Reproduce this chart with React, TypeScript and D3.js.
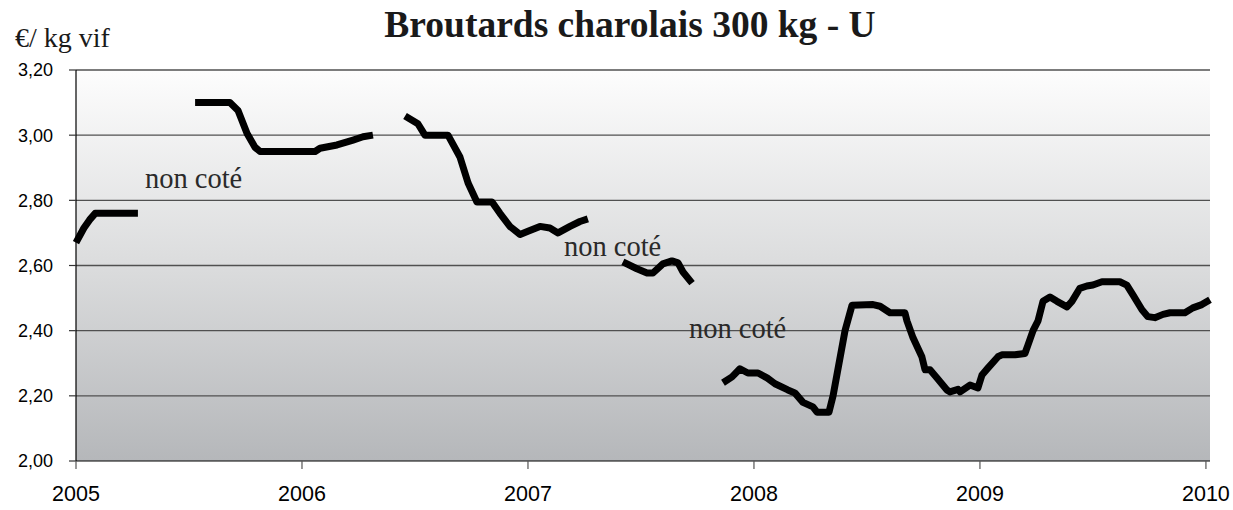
import React from "react";
import * as d3 from "d3";

// ---- data (decimal year, €/kg vif) ----
const seg2005a: [number, number][] = [
  [2005.0, 2.67], [2005.035, 2.715], [2005.06, 2.74], [2005.085, 2.76], [2005.274, 2.76],
];
const seg2005b: [number, number][] = [
  [2005.527, 3.1], [2005.681, 3.1], [2005.717, 3.076], [2005.757, 3.005], [2005.792, 2.963],
  [2005.814, 2.95], [2006.058, 2.95], [2006.08, 2.96], [2006.155, 2.97], [2006.226, 2.985],
  [2006.27, 2.995], [2006.314, 3.0],
];
const seg2006: [number, number][] = [
  [2006.456, 3.059], [2006.513, 3.035], [2006.544, 3.0], [2006.646, 3.0], [2006.699, 2.933],
  [2006.735, 2.853], [2006.774, 2.795], [2006.841, 2.795], [2006.876, 2.76], [2006.92, 2.72],
  [2006.965, 2.695], [2007.0, 2.705], [2007.053, 2.72], [2007.097, 2.715], [2007.133, 2.7],
  [2007.186, 2.72], [2007.23, 2.735], [2007.265, 2.743],
];
const seg2007: [number, number][] = [
  [2007.42, 2.611], [2007.482, 2.59], [2007.527, 2.577], [2007.553, 2.577], [2007.597, 2.605],
  [2007.637, 2.614], [2007.664, 2.608], [2007.686, 2.58], [2007.726, 2.546],
];
const seg2008: [number, number][] = [
  [2007.863, 2.24], [2007.903, 2.258], [2007.938, 2.283], [2007.973, 2.27], [2008.018, 2.27],
  [2008.058, 2.255], [2008.093, 2.237], [2008.15, 2.218], [2008.181, 2.209], [2008.217, 2.18],
  [2008.261, 2.166], [2008.279, 2.15], [2008.332, 2.15], [2008.35, 2.2], [2008.403, 2.4],
  [2008.434, 2.478], [2008.527, 2.48], [2008.558, 2.475], [2008.602, 2.455], [2008.668, 2.455],
  [2008.677, 2.43], [2008.704, 2.378], [2008.743, 2.32], [2008.757, 2.28], [2008.779, 2.28],
  [2008.81, 2.255], [2008.854, 2.218], [2008.867, 2.212], [2008.903, 2.22], [2008.912, 2.212],
  [2008.956, 2.233], [2008.991, 2.224], [2009.009, 2.264], [2009.035, 2.285], [2009.08, 2.32],
  [2009.097, 2.326], [2009.155, 2.326], [2009.199, 2.33], [2009.212, 2.355], [2009.235, 2.4],
  [2009.257, 2.43], [2009.279, 2.49], [2009.31, 2.503], [2009.341, 2.49], [2009.385, 2.473],
  [2009.407, 2.49], [2009.442, 2.53], [2009.473, 2.537], [2009.5, 2.54], [2009.54, 2.55],
  [2009.619, 2.55], [2009.65, 2.54], [2009.677, 2.51], [2009.717, 2.464], [2009.743, 2.443],
  [2009.774, 2.44], [2009.81, 2.45], [2009.841, 2.455], [2009.907, 2.455], [2009.942, 2.47],
  [2009.982, 2.48], [2010.018, 2.495],
];
const segments = [seg2005a, seg2005b, seg2006, seg2007, seg2008];

const xTicks = [2005, 2006, 2007, 2008, 2009, 2010];
const yTicks = [2.0, 2.2, 2.4, 2.6, 2.8, 3.0, 3.2];

const noteText = "non coté";
const notes: [number, number][] = [
  [2005.305, 2.838],
  [2007.159, 2.629],
  [2007.712, 2.378],
];

const title = "Broutards charolais 300 kg - U";
const unitLabel = "€/ kg vif";

export default function App() {
  const W = 1233, H = 510;
  const left = 76, right = 1210, top = 70, bottom = 461;
  const x = d3.scaleLinear().domain([2005, 2010.018]).range([left, right]);
  const y = d3.scaleLinear().domain([2.0, 3.2]).range([bottom, top]);
  const line = d3.line<[number, number]>().x(d => x(d[0])).y(d => y(d[1]));
  const fmt = (v: number) => d3.format(".2f")(v).replace(".", ",");

  return (
    <svg width={W} height={H} style={{ position: "absolute", left: 0, top: 0, display: "block" }}>
      <defs>
        <linearGradient id="bg" x1="0" y1="0" x2="0" y2="1">
          <stop offset="0%" stopColor="#fdfdfd" />
          <stop offset="50%" stopColor="#dbdcdd" />
          <stop offset="100%" stopColor="#b5b7ba" />
        </linearGradient>
      </defs>
      <rect x={0} y={0} width={W} height={H} fill="#ffffff" />
      <rect x={left} y={top} width={right - left} height={bottom - top} fill="url(#bg)" />

      {/* gridlines */}
      {yTicks.filter(t => t > 2.0).map(t => (
        <line key={t} x1={left} x2={right} y1={y(t)} y2={y(t)} stroke="#505050" strokeWidth={1.3} />
      ))}

      {/* y axis */}
      <line x1={left} x2={left} y1={top} y2={bottom} stroke="#000" strokeWidth={1.2} />
      {yTicks.map(t => (
        <g key={t}>
          <line x1={left - 7} x2={left} y1={y(t)} y2={y(t)} stroke="#333" strokeWidth={1.2} />
          <text x={53} y={y(t)} dy="0.36em" textAnchor="end" fontFamily="Liberation Sans, Arial, sans-serif" fontSize={18} fill="#000">
            {fmt(t)}
          </text>
        </g>
      ))}

      {/* x axis */}
      <line x1={left} x2={right} y1={bottom} y2={bottom} stroke="#000" strokeWidth={1.2} />
      {xTicks.map(t => (
        <g key={t}>
          <line x1={x(t)} x2={x(t)} y1={bottom} y2={bottom + 8} stroke="#555" strokeWidth={1.2} />
          <text x={x(t)} y={501} textAnchor="middle" fontFamily="Liberation Sans, Arial, sans-serif" fontSize={21.5} fill="#000">
            {t}
          </text>
        </g>
      ))}

      {/* series */}
      {segments.map((s, i) => (
        <path key={i} d={line(s) || ""} fill="none" stroke="#000" strokeWidth={7} strokeLinejoin="round" strokeLinecap="butt" />
      ))}

      {/* annotations */}
      {notes.map((n, i) => (
        <text key={i} x={x(n[0])} y={y(n[1])} fontFamily="Liberation Serif, Times New Roman, serif" fontSize={28.5} fill="#2a2a2a">
          {noteText}
        </text>
      ))}

      {/* titles */}
      <text x={630} y={37} textAnchor="middle" fontFamily="Liberation Serif, Times New Roman, serif" fontWeight="bold" fontSize={37.5} fill="#1a1a1a">
        {title}
      </text>
      <text x={15} y={47} fontFamily="Liberation Serif, Times New Roman, serif" fontSize={28} fill="#1a1a1a">
        {unitLabel}
      </text>
    </svg>
  );
}
